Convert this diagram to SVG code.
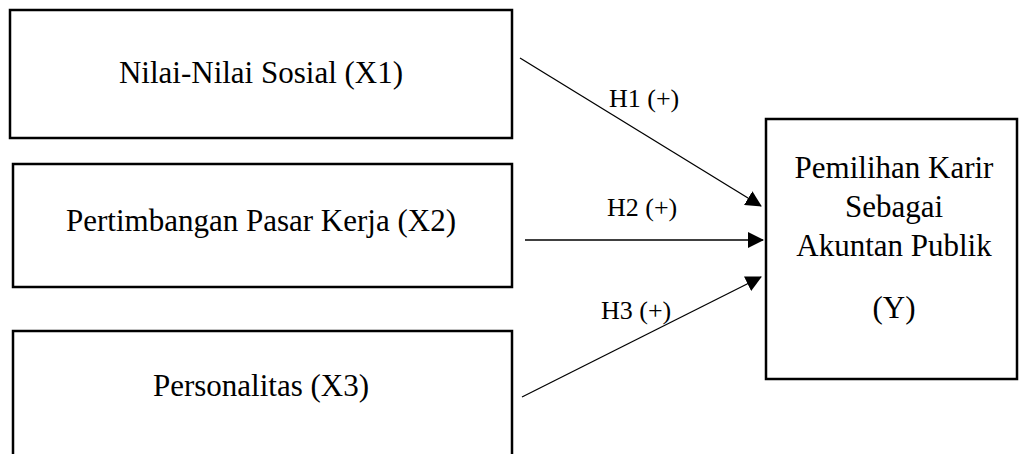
<svg xmlns="http://www.w3.org/2000/svg" width="1019" height="454" viewBox="0 0 1019 454">
<style>
.box{fill:#fff;stroke:#000;stroke-width:2.5}
.t{font-family:"Liberation Serif","Times New Roman",serif;font-size:31px;fill:#000;text-anchor:middle}
.l{font-family:"Liberation Serif","Times New Roman",serif;font-size:26px;fill:#000}
.c{stroke:#000;stroke-width:1.3;fill:none;marker-end:url(#ah)}
</style>
<defs>
<marker id="ah" markerUnits="userSpaceOnUse" markerWidth="16" markerHeight="16" viewBox="0 0 16 16" refX="15" refY="8" orient="auto">
<path d="M0,0 L16,8 L0,16 Z" fill="#000"/>
</marker>
</defs>
<rect width="1019" height="454" fill="#fff"/>
<g id="x1"><rect class="box" x="10" y="10" width="502" height="128"/><text class="t" x="261" y="83">Nilai-Nilai Sosial (X1)</text></g>
<g id="x2"><rect class="box" x="13" y="164" width="499" height="123"/><text class="t" x="261" y="231">Pertimbangan Pasar Kerja (X2)</text></g>
<g id="x3"><rect class="box" x="13" y="331" width="499" height="140"/><text class="t" x="261" y="396">Personalitas (X3)</text></g>
<g id="y"><rect class="box" x="766" y="119" width="251" height="260"/><text class="t" x="894" y="178">Pemilihan Karir</text><text class="t" x="894" y="217">Sebagai</text><text class="t" x="894" y="256">Akuntan Publik</text><text class="t" x="894" y="318">(Y)</text></g>
<g id="connectors">
<line class="c" x1="520" y1="58" x2="761" y2="206"/>
<line class="c" x1="525" y1="240" x2="763" y2="240"/>
<line class="c" x1="522" y1="397" x2="761" y2="277"/>
<text class="l" x="609" y="107">H1 (+)</text>
<text class="l" x="607" y="216">H2 (+)</text>
<text class="l" x="601" y="319">H3 (+)</text>
</g>
</svg>
